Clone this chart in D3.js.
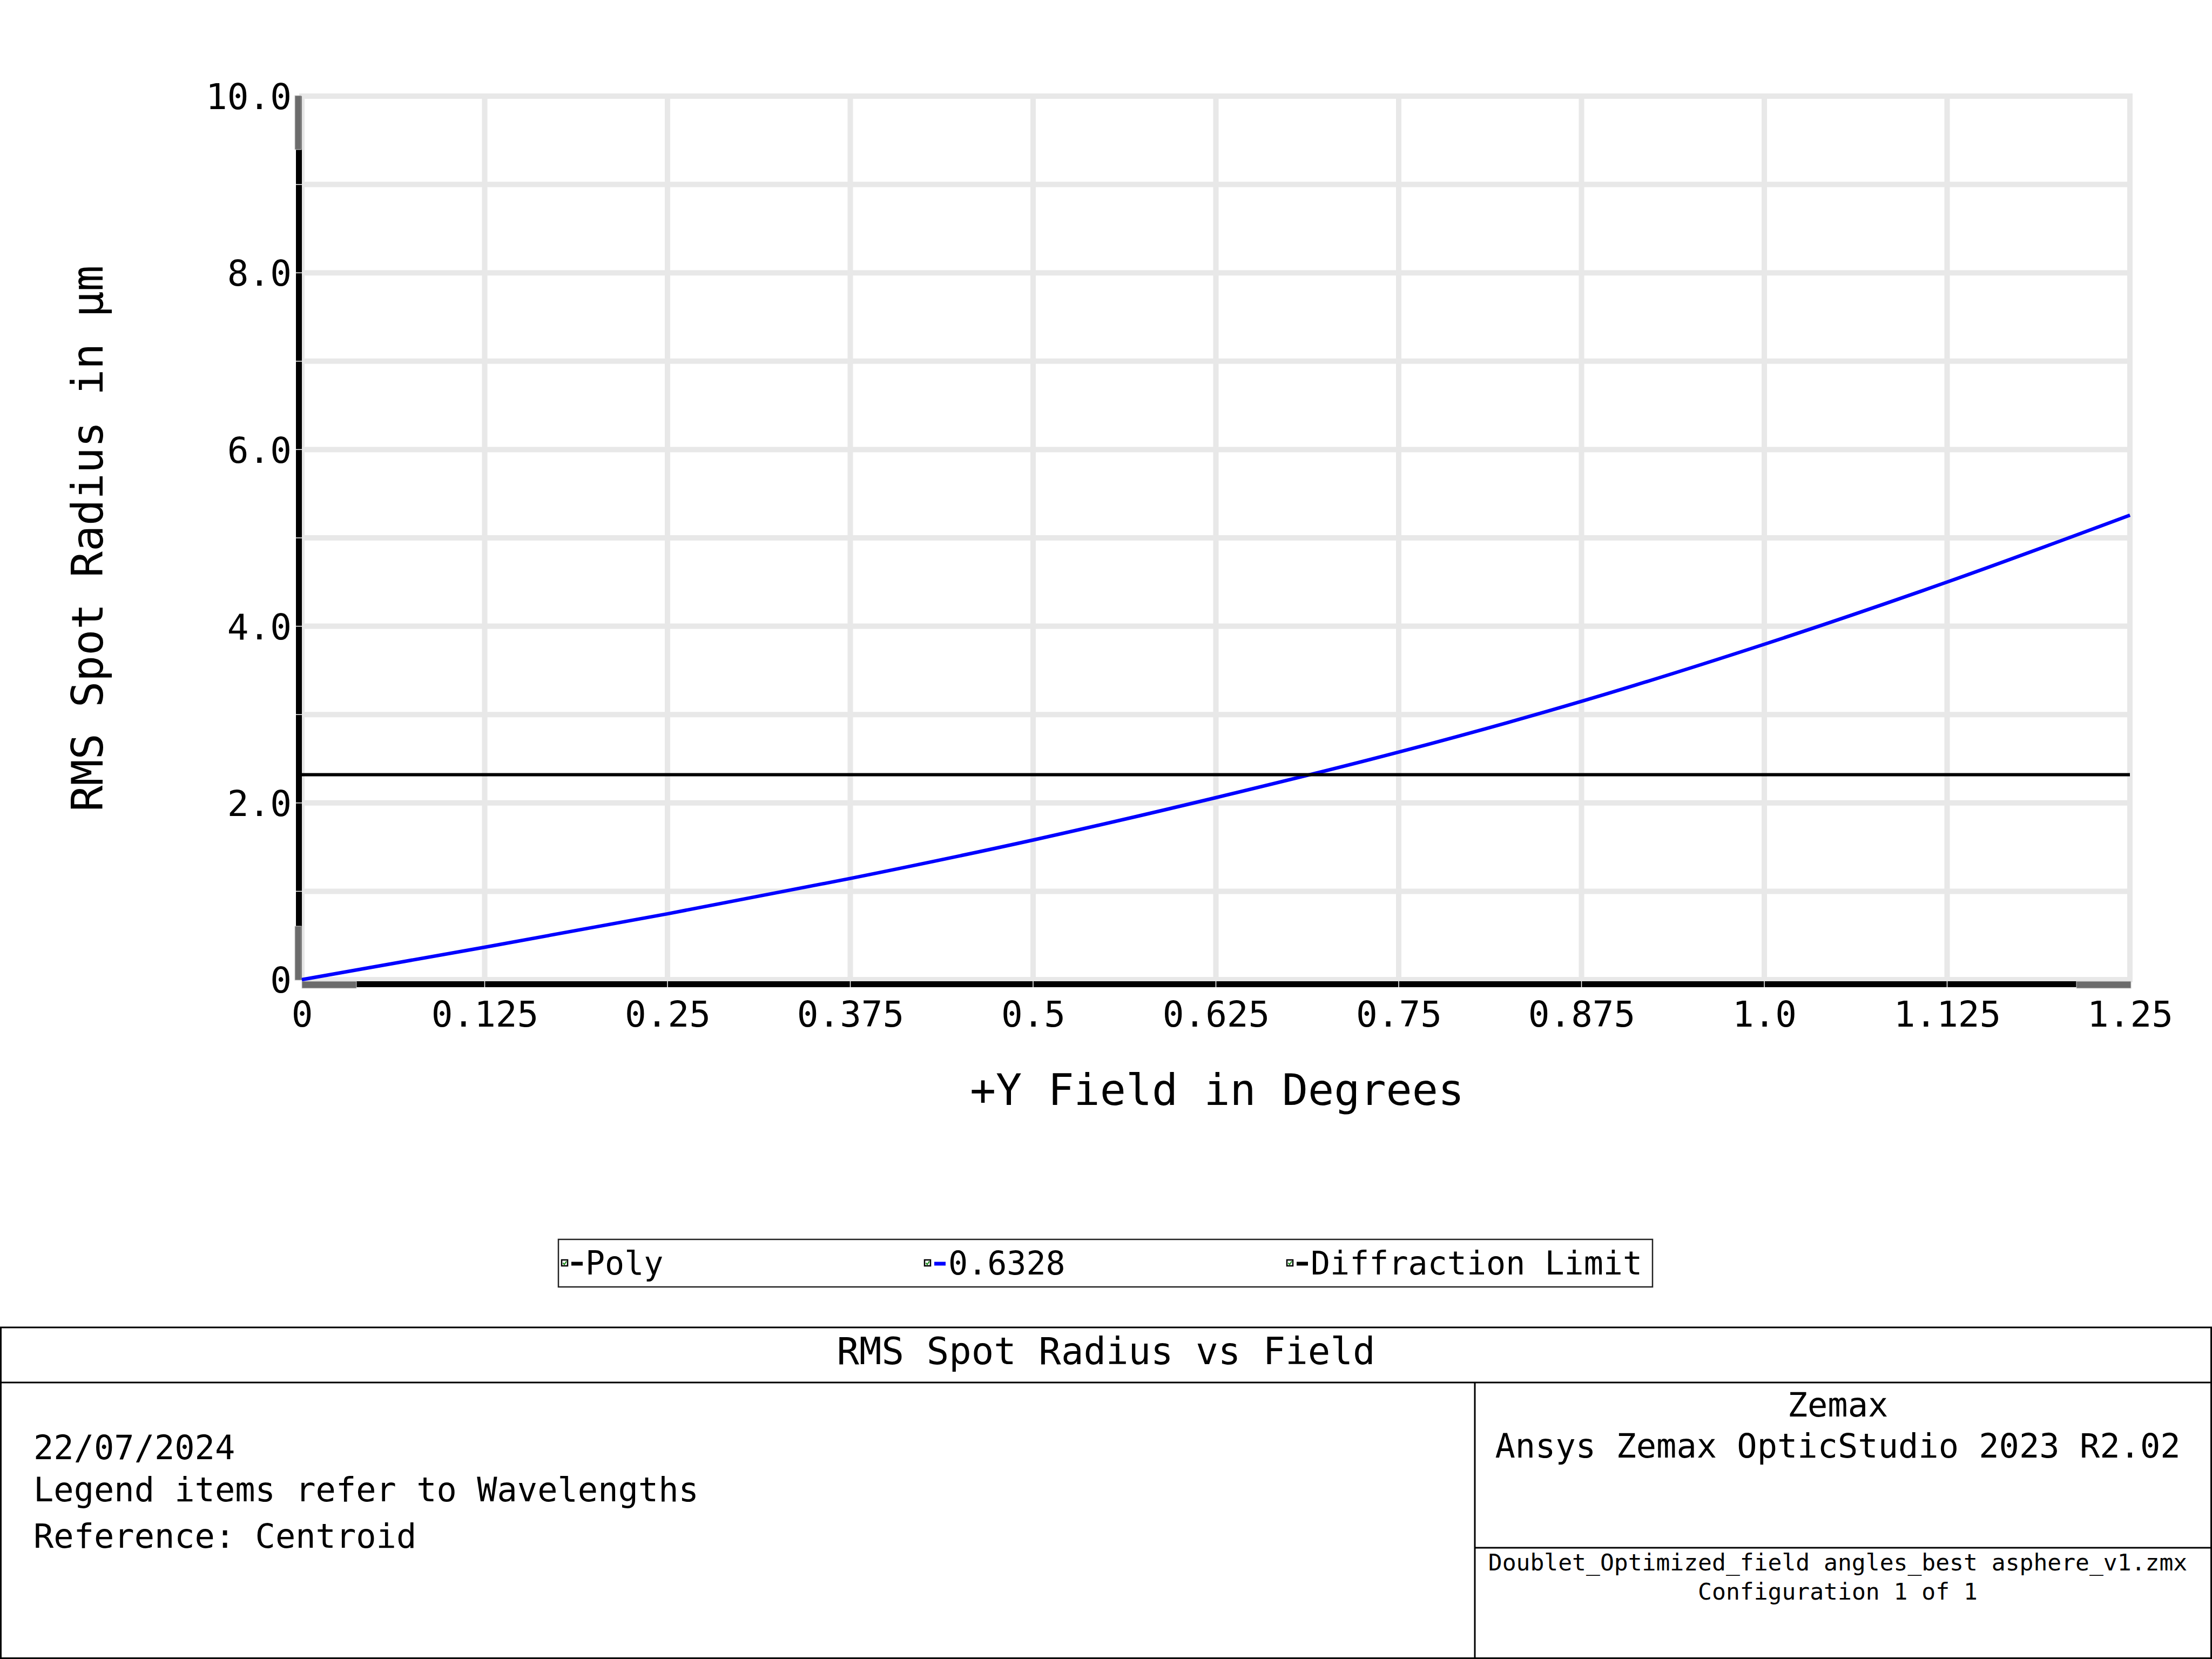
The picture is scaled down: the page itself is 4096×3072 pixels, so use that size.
<!DOCTYPE html>
<html>
<head>
<meta charset="utf-8">
<script src="https://cdn.jsdelivr.net/npm/d3@7/dist/d3.min.js"></script>
<style>
  html, body { margin: 0; padding: 0; background: #fff; }
  svg { display: block; }
  text { font-family: "DejaVu Sans Mono", "Liberation Mono", monospace; fill: #000; }
</style>
</head>
<body>
<script>
// ---------------- data ----------------
const fieldDeg = [0, 0.125, 0.25, 0.375, 0.5, 0.625, 0.75, 0.875, 1.0, 1.125, 1.25];
const rms06328 = [0, 0.367, 0.745, 1.145, 1.58, 2.06, 2.575, 3.15, 3.796, 4.50, 5.257];
const rmsPoly  = [0, 0.367, 0.745, 1.145, 1.58, 2.06, 2.575, 3.15, 3.796, 4.50, 5.257];
const diffractionLimit = 2.32;

const xTickValues = [0, 0.125, 0.25, 0.375, 0.5, 0.625, 0.75, 0.875, 1.0, 1.125, 1.25];
const xTickLabels = ["0", "0.125", "0.25", "0.375", "0.5", "0.625", "0.75", "0.875", "1.0", "1.125", "1.25"];
const yTickValues = [0, 2, 4, 6, 8, 10];
const yTickLabels = ["0", "2.0", "4.0", "6.0", "8.0", "10.0"];
const yGridValues = [0, 1, 2, 3, 4, 5, 6, 7, 8, 9, 10];

const legendNames  = ["Poly", "0.6328", "Diffraction Limit"];
const legendColors = ["#000000", "#0000ff", "#000000"];

const xAxisTitle = "+Y Field in Degrees";
const yAxisTitle = "RMS Spot Radius in µm";
const chartTitle = "RMS Spot Radius vs Field";
const leftFooter = ["22/07/2024", "Legend items refer to Wavelengths", "Reference: Centroid"];
const rightFooterTop = ["Zemax", "Ansys Zemax OpticStudio 2023 R2.02"];
const rightFooterBottom = ["Doublet_Optimized_field angles_best asphere_v1.zmx", "Configuration 1 of 1"];

// ---------------- layout ----------------
const W = 4096, H = 3072;
const PL = 559, PR = 3944, PT = 178, PB = 1814;
const MONO = '"DejaVu Sans Mono", "Liberation Mono", monospace';

const svg = d3.select("body").append("svg").attr("width", W).attr("height", H);
svg.append("rect").attr("width", W).attr("height", H).attr("fill", "#fff");

const x = d3.scaleLinear().domain([0, 1.25]).range([PL, PR]);
const y = d3.scaleLinear().domain([0, 10]).range([PB, PT]);

// grid
const grid = svg.append("g");
grid.selectAll(".vg").data(xTickValues).enter().append("line")
  .attr("x1", d => x(d)).attr("x2", d => x(d))
  .attr("y1", PT - 5).attr("y2", PB)
  .attr("stroke", "#e8e8e8").attr("stroke-width", 10);
grid.selectAll(".hg").data(yGridValues).enter().append("line")
  .attr("x1", PL).attr("x2", PR + 5)
  .attr("y1", d => y(d)).attr("y2", d => y(d))
  .attr("stroke", "#e8e8e8").attr("stroke-width", 10);

// axis lines (thick black with grey end markers)
const axG = svg.append("g");
axG.append("rect").attr("x", PL - 11).attr("y", PT).attr("width", 11).attr("height", PB - PT + 1).attr("fill", "#000");
axG.append("rect").attr("x", PL).attr("y", PB + 3).attr("width", PR - PL + 2).attr("height", 11).attr("fill", "#000");
// grey markers
axG.append("rect").attr("x", PL - 13).attr("y", PT - 1).attr("width", 12).attr("height", 100).attr("fill", "#6b6b6b").attr("stroke", "#d0d0d0").attr("stroke-width", 1);
axG.append("rect").attr("x", PL - 13).attr("y", PB - 99).attr("width", 12).attr("height", 100).attr("fill", "#6b6b6b").attr("stroke", "#d0d0d0").attr("stroke-width", 1);
axG.append("rect").attr("x", PL).attr("y", PB + 3).attr("width", 101).attr("height", 13).attr("fill", "#6b6b6b").attr("stroke", "#d0d0d0").attr("stroke-width", 1);
axG.append("rect").attr("x", PR - 99).attr("y", PB + 3).attr("width", 101).attr("height", 13).attr("fill", "#6b6b6b").attr("stroke", "#d0d0d0").attr("stroke-width", 1);
// white notches on black axis lines
axG.selectAll(".xn").data(xTickValues.slice(1, -1)).enter().append("line")
  .attr("x1", d => x(d)).attr("x2", d => x(d)).attr("y1", PB + 3).attr("y2", PB + 14)
  .attr("stroke", "#fff").attr("stroke-width", 1.5);
axG.selectAll(".yn").data(yGridValues.slice(1, -1)).enter().append("line")
  .attr("x1", PL - 11).attr("x2", PL).attr("y1", d => y(d)).attr("y2", d => y(d))
  .attr("stroke", "#fff").attr("stroke-width", 1.5);

// tick labels via d3 axes
const xAxis = d3.axisBottom(x).tickValues(xTickValues)
  .tickFormat((d, i) => xTickLabels[i]).tickSize(0).tickPadding(0);
const gx = svg.append("g").attr("transform", `translate(0, ${PB + 40})`).call(xAxis);
gx.select(".domain").remove();
gx.selectAll("text").attr("font-family", MONO).attr("font-size", 66).attr("fill", "#000")
  .attr("dy", "0.71em").attr("y", 0);

const yAxis = d3.axisLeft(y).tickValues(yTickValues)
  .tickFormat((d, i) => yTickLabels[i]).tickSize(0).tickPadding(0);
const gy = svg.append("g").attr("transform", `translate(${PL - 19}, 0)`).call(yAxis);
gy.select(".domain").remove();
gy.selectAll("text").attr("font-family", MONO).attr("font-size", 66).attr("fill", "#000")
  .attr("dy", "0.36em");

// axis titles
svg.append("text").attr("x", (PL + PR) / 2 + 2).attr("y", 2046)
  .attr("text-anchor", "middle").attr("font-size", 80).text(xAxisTitle);
svg.append("text").attr("transform", `translate(190, 997) rotate(-90)`)
  .attr("text-anchor", "middle").attr("font-size", 80).text(yAxisTitle);

// series
const line = d3.line().x((d, i) => x(fieldDeg[i])).y(d => y(d)).curve(d3.curveMonotoneX);
svg.append("path").datum(rmsPoly).attr("d", line)
  .attr("fill", "none").attr("stroke", "#000").attr("stroke-width", 3);
svg.append("path").datum(rms06328).attr("d", line)
  .attr("fill", "none").attr("stroke", "#0000ff").attr("stroke-width", 6.5);
svg.append("line").attr("x1", x(0)).attr("x2", x(1.25))
  .attr("y1", y(diffractionLimit)).attr("y2", y(diffractionLimit))
  .attr("stroke", "#000").attr("stroke-width", 6);

// legend
const lg = svg.append("g");
lg.append("rect").attr("x", 1034).attr("y", 2295).attr("width", 2026).attr("height", 88)
  .attr("fill", "#fff").attr("stroke", "#222").attr("stroke-width", 2.5);
const legendX = [1040, 1712, 2383];
legendNames.forEach((name, i) => {
  const g = lg.append("g").attr("transform", `translate(${legendX[i]}, 0)`);
  g.append("rect").attr("x", 0).attr("y", 2333).attr("width", 11).attr("height", 11)
    .attr("fill", "#fff").attr("stroke", "#000").attr("stroke-width", 2.5);
  g.append("path").attr("d", "M2.5,2338.5 L5,2341.5 L9,2335.5")
    .attr("fill", "none").attr("stroke", "#1a8a1a").attr("stroke-width", 2.2);
  g.append("line").attr("x1", 18).attr("x2", 39).attr("y1", 2340).attr("y2", 2340)
    .attr("stroke", legendColors[i]).attr("stroke-width", 7);
  g.append("text").attr("x", 44).attr("y", 2360).attr("font-size", 60).text(name);
});

// footer
const ft = svg.append("g");
const stroke = "#000";
ft.append("rect").attr("x", 1.5).attr("y", 2458).attr("width", W - 3).attr("height", H - 2458 - 1.5)
  .attr("fill", "none").attr("stroke", stroke).attr("stroke-width", 3);
ft.append("line").attr("x1", 0).attr("x2", W).attr("y1", 2560).attr("y2", 2560)
  .attr("stroke", stroke).attr("stroke-width", 3);
ft.append("line").attr("x1", 2731).attr("x2", 2731).attr("y1", 2560).attr("y2", H)
  .attr("stroke", stroke).attr("stroke-width", 3);
ft.append("line").attr("x1", 2731).attr("x2", W).attr("y1", 2866).attr("y2", 2866)
  .attr("stroke", stroke).attr("stroke-width", 3);

ft.append("text").attr("x", W / 2).attr("y", 2526).attr("text-anchor", "middle")
  .attr("font-size", 69).text(chartTitle);

const leftY = [2702, 2780, 2866];
leftFooter.forEach((t, i) => {
  ft.append("text").attr("x", 62).attr("y", leftY[i]).attr("font-size", 62).text(t);
});
const rtY = [2623, 2699];
rightFooterTop.forEach((t, i) => {
  ft.append("text").attr("x", 3403).attr("y", rtY[i]).attr("text-anchor", "middle")
    .attr("font-size", 62).text(t);
});
const rbY = [2908, 2962];
rightFooterBottom.forEach((t, i) => {
  ft.append("text").attr("x", 3403).attr("y", rbY[i]).attr("text-anchor", "middle")
    .attr("font-size", 43).text(t);
});
</script>
</body>
</html>
